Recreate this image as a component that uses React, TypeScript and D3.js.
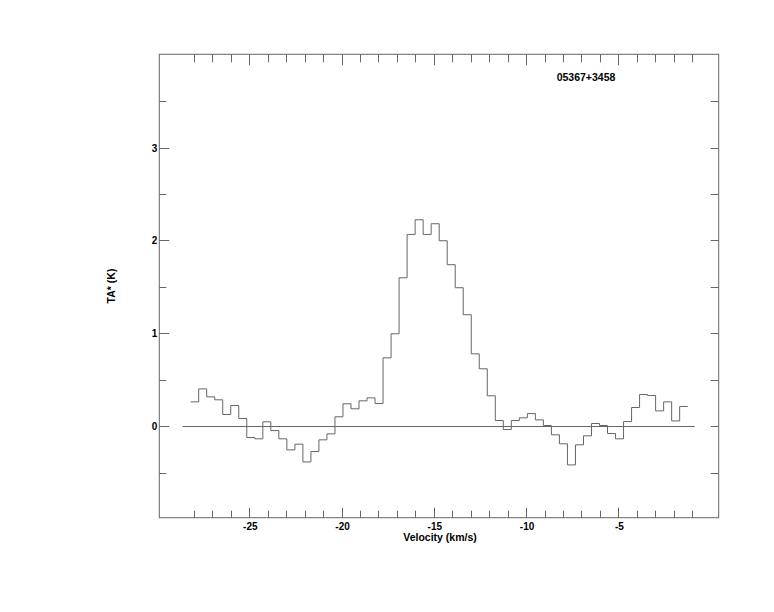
import React, { useRef, useEffect } from 'react';
import * as d3 from 'd3';

// spectrum of 05367+3458, one value per channel (K)
const channelStart = -28.18; // left edge of first channel, km/s
const channelWidth = 0.4345; // km/s
const ta: number[] = [
  0.262, 0.402, 0.316, 0.284, 0.126, 0.223, 0.083, -0.122, -0.136, 0.047,
  -0.047, -0.136, -0.255, -0.194, -0.385, -0.273, -0.147, -0.083, 0.101, 0.241,
  0.187, 0.273, 0.305, 0.244, 0.736, 0.995, 1.598, 2.065, 2.223, 2.065,
  2.18, 1.997, 1.739, 1.491, 1.2, 0.779, 0.618, 0.327, 0.061, -0.036,
  0.061, 0.09, 0.136, 0.068, 0.007, -0.093, -0.19, -0.417, -0.201, -0.104,
  0.029, 0.007, -0.079, -0.136, 0.05, 0.201, 0.341, 0.33, 0.165, 0.262,
  0.057, 0.212,
];
const baselineRange = [-28.62, -0.86];
const xMajor = [-25, -20, -15, -10, -5];
const xMinor = d3.range(-28, 0, 1);
const yMajor = [0, 1, 2, 3];
const yMinor = [-0.5, 0.5, 1.5, 2.5, 3.5];
const title = '05367+3458';

const W = 774;
const H = 612;
const frame = { left: 159.3, right: 718.7, top: 54.3, bottom: 517.7 };
const lineColor = '#666';
const font = '"Liberation Sans", Arial, Helvetica, sans-serif';

const App: React.FC = () => {
  const svgRef = useRef<SVGSVGElement | null>(null);

  useEffect(() => {
    const svg = d3.select(svgRef.current!);
    svg.selectAll('*').remove();

    const x = d3.scaleLinear().domain([-29.88, 0.44]).range([frame.left, frame.right]);
    const y = d3.scaleLinear().domain([-0.98, 4.01]).range([frame.bottom, frame.top]);
    const yPix = (v: number) => Math.floor(y(v)) + 0.5;

    svg.append('rect')
      .attr('x', frame.left).attr('y', frame.top)
      .attr('width', frame.right - frame.left).attr('height', frame.bottom - frame.top)
      .attr('fill', 'none').attr('stroke', lineColor).attr('stroke-width', 1);

    const ticks = svg.append('g').attr('stroke', lineColor).attr('stroke-width', 1);
    const xAll = xMinor.map((v) => ({ v, len: xMajor.includes(v) ? 10 : 7 }));
    xAll.forEach(({ v, len }) => {
      const px = Math.round(x(v)) + 0.5;
      ticks.append('line').attr('x1', px).attr('x2', px)
        .attr('y1', frame.bottom).attr('y2', frame.bottom - len);
      ticks.append('line').attr('x1', px).attr('x2', px)
        .attr('y1', frame.top).attr('y2', frame.top + len + 1);
    });
    const yAll = [...yMajor.map((v) => ({ v, len: 10 })), ...yMinor.map((v) => ({ v, len: 7 }))];
    yAll.forEach(({ v, len }) => {
      const py = yPix(v);
      ticks.append('line').attr('x1', frame.left).attr('x2', frame.left + len)
        .attr('y1', py).attr('y2', py);
      ticks.append('line').attr('x1', frame.right).attr('x2', frame.right - 8)
        .attr('y1', py).attr('y2', py);
    });

    const labels = svg.append('g')
      .attr('font-family', font).attr('font-weight', 'bold').attr('font-size', 10).attr('fill', '#000');
    xMajor.forEach((v) => {
      labels.append('text').attr('x', x(v) + 1).attr('y', 529.5)
        .attr('text-anchor', 'middle').text(String(v));
    });
    yMajor.forEach((v) => {
      labels.append('text').attr('x', frame.left - 2).attr('y', yPix(v) + 3.5)
        .attr('text-anchor', 'end').text(String(v));
    });
    labels.append('text').attr('x', (frame.left + frame.right) / 2 + 1).attr('y', 540.5)
      .attr('text-anchor', 'middle').attr('font-size', 10.5).text('Velocity (km/s)');
    labels.append('text')
      .attr('transform', `translate(115,${286}) rotate(-90)`)
      .attr('text-anchor', 'middle').attr('font-size', 10.5).text('TA* (K)');
    labels.append('text').attr('x', 586).attr('y', 81)
      .attr('text-anchor', 'middle').attr('font-size', 10.5).text(title);

    // baseline
    svg.append('line')
      .attr('x1', x(baselineRange[0])).attr('x2', x(baselineRange[1]))
      .attr('y1', yPix(0)).attr('y2', yPix(0))
      .attr('stroke', lineColor).attr('stroke-width', 1);

    // histogram
    const pts: [number, number][] = ta.map((v, i) => [channelStart + i * channelWidth, v]);
    pts.push([channelStart + ta.length * channelWidth, ta[ta.length - 1]]);
    const line = d3.line<[number, number]>()
      .x((d) => x(d[0]))
      .y((d) => y(d[1]) - 0.5)
      .curve(d3.curveStepAfter);
    svg.append('path')
      .attr('d', line(pts)!)
      .attr('fill', 'none').attr('stroke', lineColor).attr('stroke-width', 1);
  }, []);

  return (
    <svg
      ref={svgRef}
      width={W}
      height={H}
      style={{ position: 'absolute', left: 0, top: 0, background: '#fff' }}
    />
  );
};

export default App;
